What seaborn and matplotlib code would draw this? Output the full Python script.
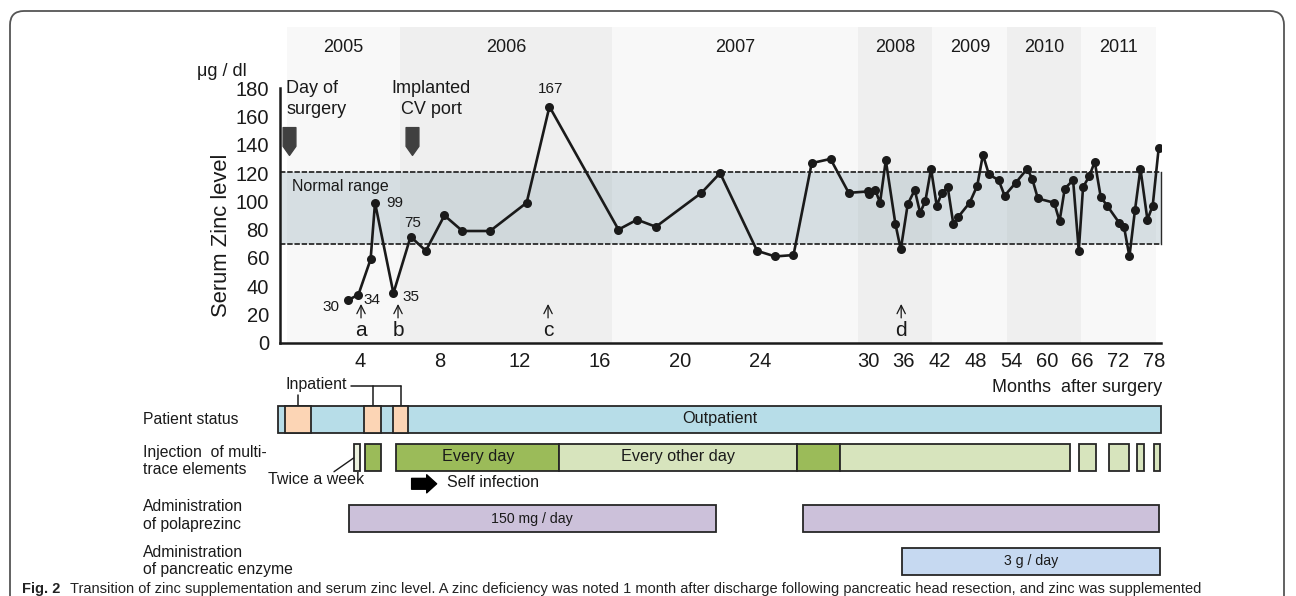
import numpy as np
import pandas as pd
import matplotlib
matplotlib.use('Agg')
import matplotlib.pyplot as plt
import seaborn as sns
from matplotlib.patches import FancyBboxPatch
from matplotlib.path import Path
from matplotlib.transforms import IdentityTransform

sns.set_theme(style='white')
plt.rcParams['font.family'] = ['Liberation Sans', 'DejaVu Sans']
plt.rcParams['axes.unicode_minus'] = False

# serum zinc, months after surgery / ug per dl
months = [3.39, 3.92, 4.53, 4.75, 5.67, 6.53, 7.29, 8.22, 9.12, 10.5, 12.33, 13.47,
          16.92, 17.85, 18.79, 21.07, 22.0, 23.85, 24.75, 25.67, 26.58, 27.52, 28.43,
          30.05, 30.2, 31.2, 32.0, 32.97, 34.58, 35.48, 36.65, 37.83, 38.72, 39.6,
          40.56, 41.51, 42.4, 43.36, 44.3, 45.13, 47.04, 48.31, 49.27, 50.27, 51.9,
          52.91, 54.75, 56.7, 57.53, 58.49, 61.22, 62.13, 63.0, 64.4, 65.35, 66.07,
          67.14, 68.03, 69.04, 70.1, 72.1, 72.94, 73.85, 74.79, 75.7, 76.87, 77.76, 78.77]
zinc = [30, 34, 59, 99, 35, 75, 65, 90, 79, 79, 99, 167,
        80, 87, 82, 106, 120, 65, 61, 62, 127, 130, 106,
        107, 105, 108, 99, 129, 84, 66, 98, 108, 92, 100,
        123, 97, 106, 110, 84, 89, 99, 111, 133, 119, 115,
        104, 113, 123, 116, 102, 99, 86, 109, 115, 65, 110,
        118, 128, 103, 97, 85, 82, 61, 94, 123, 87, 97, 138]
# which points carry a value label
labeled_idx = [0, 1, 3, 4, 5, 11]

normal_low, normal_high = 70, 121
years = ['2005', '2006', '2007', '2008', '2009', '2010', '2011']
year_edges = [0.35, 6.0, 16.6, 29.0, 40.79, 53.38, 65.75, 78.34]
events = ['Day of\nsurgery', 'Implanted\nCV port']
event_months = [0.45, 6.6]
arrow_letters = ['a', 'b', 'c', 'd']
arrow_months = [4.05, 5.9, 13.4, 35.55]

xticks = [4, 8, 12, 16, 20, 24, 28, 30, 36, 42, 48, 54, 60, 66, 72, 78]
xticklabels = ['4', '8', '12', '16', '20', '24', '', '30', '36', '42', '48', '54', '60', '66', '72', '78']

# timeline rows
status_span = (-0.1, 79.2)
inpatient = [(0.23, 1.56), (4.22, 5.05), (5.67, 6.4)]
inj_start = [3.68, 4.24, 5.82, 13.97, 25.83, 28.0, 65.4, 70.4, 75.2, 78.0]
inj_end = [3.99, 5.03, 13.97, 25.83, 28.0, 63.8, 68.2, 73.7, 76.3, 79.0]
inj_kind = ['twice', 'daily', 'daily', 'alt', 'daily', 'alt', 'alt', 'alt', 'alt', 'alt']
inj_text = ['', '', 'Every day', 'Every other day', '', '', '', '', '', '']
pola_start = [3.43, 26.16]
pola_end = [21.8, 78.8]
pola_text = ['150 mg / day', '']
panc_start = [35.75]
panc_end = [78.9]
panc_text = ['3 g / day']

W, H = 1296, 596
SLOPE = 0.2979


def fwd(m):
    m = np.asarray(m, dtype=float)
    return np.where(m <= 28.8, m,
                    np.where(m <= 30, 28.8 + (m - 28.8) * 0.5, 29.4 + (m - 30) * SLOPE))


def inv(u):
    u = np.asarray(u, dtype=float)
    return np.where(u <= 28.8, u,
                    np.where(u <= 29.4, 28.8 + (u - 28.8) / 0.5, 30 + (u - 29.4) / SLOPE))


def mid(a, b):
    return float(inv((fwd(a) + fwd(b)) / 2))


def fx(px):
    return px / W


def fy(py):
    return 1 - py / H


ink = '#1a1a1a'
fig = plt.figure(figsize=(W / 100, H / 100), dpi=100)
ax = fig.add_axes([fx(280), fy(342.7), 881.3 / W, (342.7 - 27) / H])
ax.set_xscale('function', functions=(fwd, inv))
ax.set_xlim(0, 79.2)
ax.set_ylim(0, 223.3)

# year bands
band_cols = ['#f8f8f8', '#efefef']
for i, y in enumerate(years):
    ax.axvspan(year_edges[i], year_edges[i + 1], color=band_cols[i % 2], lw=0, zorder=0)
    ax.text(mid(year_edges[i], year_edges[i + 1]), 209.0, y, ha='center', va='center',
            fontsize=13, color=ink)

# normal range
ax.axhspan(normal_low, normal_high, color='#8aa5b0', alpha=0.3, lw=0, zorder=1)
for v in (normal_low, normal_high):
    ax.axhline(v, color='#2a2a2a', lw=1.3, ls=(0, (3, 1)), zorder=2)
ax.text(0.6, 110.5, 'Normal range', fontsize=11.5, color=ink, va='center')

df = pd.DataFrame({'month': months, 'zinc': zinc})
sns.lineplot(data=df, x='month', y='zinc', ax=ax, color=ink, lw=1.9, marker='o',
             markersize=6.5, markeredgecolor=ink, markeredgewidth=0, sort=False, zorder=5)

offsets = [(-12, -4.8), (9.6, -3.6), (14.2, 0), (12.4, -2.4), (1.7, 9.6), (0.5, 12.7)]
for i, (dx, dy) in zip(labeled_idx, offsets):
    ax.annotate(str(zinc[i]), xy=(months[i], zinc[i]), xytext=(dx, dy),
                textcoords='offset points', ha='center', va='center', fontsize=11, color=ink)

# event markers
verts = [(-0.46, 1), (0.46, 1), (0.46, -0.35), (0, -1), (-0.46, -0.35), (-0.46, 1)]
pent = Path(verts, closed=True)
ax.plot(event_months, [142.6] * len(event_months), ls='none', marker=pent,
        markersize=20, color='#404040', zorder=4)
ax.text(0.3, 172.5, events[0], ha='left', va='center', fontsize=13, color=ink, linespacing=1.3)
ax.text(7.55, 172.5, events[1], ha='center', va='center', fontsize=13, color=ink,
        linespacing=1.3, multialignment='center')

for lt, m in zip(arrow_letters, arrow_months):
    ax.annotate(lt, xy=(m, 27.4), xytext=(m, 8.5), ha='center', va='center', fontsize=15,
                color=ink, arrowprops=dict(arrowstyle='->', lw=0.9, color=ink,
                                           shrinkA=0, shrinkB=0))

ax.set_xticks(xticks)
ax.set_xticklabels(xticklabels)
ax.set_yticks(range(0, 181, 20))
ax.minorticks_off()
ax.tick_params(axis='both', direction='in', length=5, width=1.2, labelsize=14.5,
               colors=ink, labelcolor=ink)
ax.tick_params(axis='x', pad=6.5)
ax.tick_params(axis='y', pad=8)
ax.set_xlabel('')
ax.set_ylabel('')
ax.spines['top'].set_visible(False)
ax.spines['left'].set_bounds(0, 180)
ax.spines['right'].set_bounds(normal_low, normal_high)
for s in ('left', 'bottom'):
    ax.spines[s].set_linewidth(1.8)
    ax.spines[s].set_color(ink)
ax.spines['right'].set_linewidth(1.0)
ax.spines['right'].set_color('#2a2a2a')

fig.text(fx(221.7), fy(235), 'Serum Zinc level', rotation=90, ha='center', va='center',
         fontsize=15.8, color=ink)
fig.text(fx(197), fy(71.7), 'μg / dl', ha='left', va='center', fontsize=13, color=ink)
fig.text(fx(1161.7), fy(387.7), 'Months  after surgery', ha='right', va='center',
         fontsize=13, color=ink)

# timeline panel (y in pixel rows)
ax2 = fig.add_axes([fx(280), 0, 881.3 / W, (H - 375) / H], sharex=ax)
ax2.set_ylim(H, 375)
ax2.axis('off')
ec = '#262626'
row_y = {'status': 419, 'inj': 457, 'pola': 518.5, 'panc': 561.5}
bh = 27

ax2.barh(row_y['status'], status_span[1] - status_span[0], left=status_span[0], height=bh,
         color='#b7dde8', edgecolor=ec, lw=1.3, clip_on=False, zorder=2)
for a, b in inpatient:
    ax2.barh(row_y['status'], b - a, left=a, height=bh, color='#fcd5b5', edgecolor=ec,
             lw=1.3, clip_on=False, zorder=3)
ax2.text(mid(*status_span), row_y['status'], 'Outpatient', ha='center', va='center',
         fontsize=11.7, color=ink, zorder=4)

inj_cols = {'twice': '#ebf1de', 'daily': '#9bbb59', 'alt': '#d7e4bd'}
for a, b, k, t in zip(inj_start, inj_end, inj_kind, inj_text):
    ax2.barh(row_y['inj'], b - a, left=a, height=bh, color=inj_cols[k], edgecolor=ec,
             lw=1.3, clip_on=False, zorder=2)
    if t:
        ax2.text(mid(a, b), row_y['inj'], t, ha='center', va='center', fontsize=11.7,
                 color=ink, zorder=4)

for a, b, t in zip(pola_start, pola_end, pola_text):
    ax2.barh(row_y['pola'], b - a, left=a, height=bh, color='#ccc1da', edgecolor=ec,
             lw=1.3, clip_on=False, zorder=2)
    if t:
        ax2.text(mid(a, b), row_y['pola'], t, ha='center', va='center', fontsize=10.2,
                 color=ink, zorder=4)

for a, b, t in zip(panc_start, panc_end, panc_text):
    ax2.barh(row_y['panc'], b - a, left=a, height=bh, color='#c6d9f1', edgecolor=ec,
             lw=1.3, clip_on=False, zorder=2)
    ax2.text(mid(a, b), row_y['panc'], t, ha='center', va='center', fontsize=10.2,
             color=ink, zorder=4)

# inpatient bracket
top = row_y['status'] - bh / 2
centers = [mid(a, b) for a, b in inpatient]
ax2.plot([centers[0], centers[0]], [395, top], color=ink, lw=1.1, clip_on=False)
ax2.plot([3.53, centers[2]], [385.7, 385.7], color=ink, lw=1.1, clip_on=False)
for c in centers[1:]:
    ax2.plot([c, c], [385.7, top], color=ink, lw=1.1, clip_on=False)
fig.text(fx(285.5), fy(385), 'Inpatient', ha='left', va='center', fontsize=11.5, color=ink)

# twice a week pointer
ax2.plot([2.7, inj_start[0]], [471.7, 458], color=ink, lw=1.0, clip_on=False)
fig.text(fx(267.6), fy(480), 'Twice a week', ha='left', va='center', fontsize=11.5, color=ink)

# self infection arrow
ax2.annotate('', xy=(7.83, 483.8), xytext=(6.58, 483.8),
             arrowprops=dict(arrowstyle='simple,head_length=0.55,head_width=1.0,tail_width=0.6',
                             color='black', mutation_scale=13, shrinkA=0, shrinkB=0))
fig.text(fx(447), fy(482.3), 'Self infection', ha='left', va='center', fontsize=11.5, color=ink)

row_labels = ['Patient status', 'Injection  of multi-\ntrace elements',
              'Administration\nof polaprezinc', 'Administration\nof pancreatic enzyme']
row_label_y = [419, 461, 515.5, 561]
for t, y in zip(row_labels, row_label_y):
    fig.text(fx(143), fy(y), t, ha='left', va='center', fontsize=11.3, color=ink,
             linespacing=1.2)

# frame and caption
frame = FancyBboxPatch((10, -30), 1274, H - 11 + 30, boxstyle='round,pad=0,rounding_size=14',
                       transform=IdentityTransform(), fill=False, ec='#555555', lw=1.3)
fig.add_artist(frame)
fig.text(fx(22), fy(595.5), 'Fig. 2', ha='left', va='bottom', fontsize=10.5, weight='bold',
         color='#222222')
fig.text(fx(70), fy(595.5),
         'Transition of zinc supplementation and serum zinc level. A zinc deficiency was noted 1 month after discharge following pancreatic head resection, and zinc was supplemented',
         ha='left', va='bottom', fontsize=10.5, color='#222222')

fig.savefig('out.png', dpi=100)
